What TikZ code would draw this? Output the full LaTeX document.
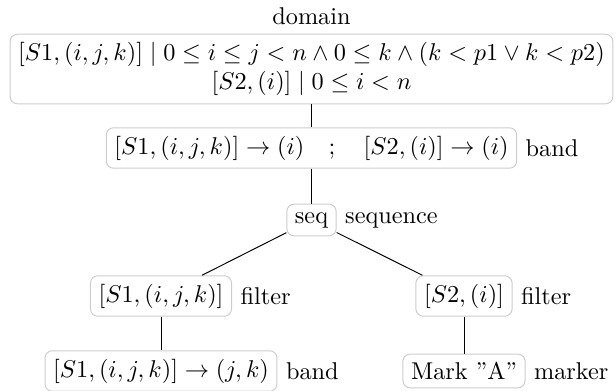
\documentclass[tikz,border=0pt]{standalone}
\begin{document}
\begin{tikzpicture}[x=0.412pt,y=-0.412pt,
  tnode/.style={draw=black!20, rounded corners=3pt, inner sep=3.33pt, align=center},
  kind/.style={inner sep=3.33pt},
  conn/.style={draw=black, line width=0.4pt}]
\useasboundingbox (0,0) rectangle (616,391);
\node[tnode, label={[kind]above:domain}] (dom) at (311.5,69)
  {$[S1,(i,j,k)] \mid 0\le i\le j<n \wedge 0\le k \wedge (k<p1 \vee k<p2)$\\ $[S2,(i)] \mid 0\le i<n$};
\node[tnode, label={[kind]right:band}] (band) at (311.5,148)
  {$[S1,(i,j,k)] \to (i) \quad ; \quad [S2,(i)] \to (i)$};
\node[tnode, label={[kind]right:sequence}] (seq) at (311.5,220) {seq};
\node[tnode, label={[kind]right:filter}] (f1) at (161,296) {$[S1,(i,j,k)]$};
\node[tnode, label={[kind]right:filter}] (f2) at (464,296) {$[S2,(i)]$};
\node[tnode, label={[kind]right:band}] (b2) at (161,371) {$[S1,(i,j,k)] \to (j,k)$};
\node[tnode, label={[kind]right:marker}] (mk) at (464,371) {Mark ''A''};
\draw[conn] (dom) -- (band);
\draw[conn] (band) -- (seq);
\draw[conn] (seq) -- (f1);
\draw[conn] (seq) -- (f2);
\draw[conn] (f1) -- (b2);
\draw[conn] (f2) -- (mk);
\end{tikzpicture}
\end{document}
